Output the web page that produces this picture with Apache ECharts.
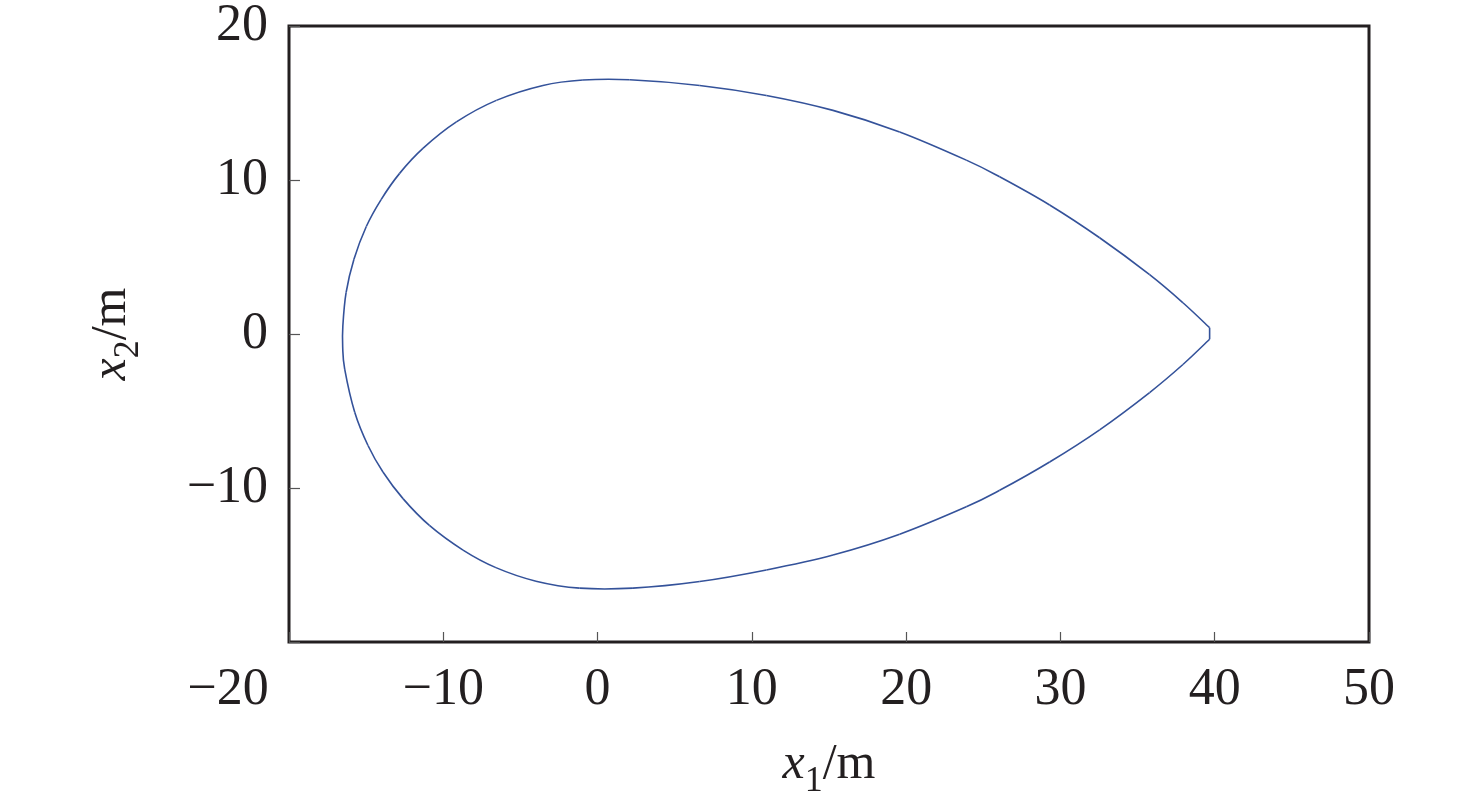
<!DOCTYPE html>
<html><head><meta charset="utf-8">
<script src="https://cdn.jsdelivr.net/npm/echarts@6/dist/echarts.min.js"></script>
<style>html,body{margin:0;padding:0;background:#fff;overflow:hidden}#c{width:1476px;height:805px}</style>
</head><body><div id="c"></div>
<script>
// Upper branch, from the tip going left (x1, x2 in metres)
const upperX1 = [39.67, 37.94, 35.78, 32.54, 29.30, 26.06, 23.90, 19.58, 15.26, 10.94, 6.62, 2.08, -0.95, -3.54, -6.56, -9.15, -11.32, -12.83, -14.03, -14.99, -15.79, -16.30, -16.51];
const upperX2 = [0.41, 2.03, 3.85, 6.25, 8.38, 10.21, 11.29, 13.12, 14.52, 15.49, 16.14, 16.51, 16.49, 16.14, 15.17, 13.77, 12.05, 10.43, 8.73, 6.98, 4.85, 2.68, 0.52];
// Leftmost point
const leftX1 = [-16.52];
const leftX2 = [-0.85];
// Lower branch, from the left going back to the tip
const lowerX1 = [-16.39, -15.74, -14.88, -13.91, -12.61, -10.90, -8.72, -6.59, -3.99, -1.16, 2.29, 6.62, 10.94, 15.26, 19.58, 23.90, 26.06, 29.30, 32.54, 35.78, 37.94, 39.67];
const lowerX2 = [-2.28, -5.08, -7.24, -8.96, -10.69, -12.43, -14.03, -15.17, -16.05, -16.50, -16.50, -16.07, -15.32, -14.35, -13.00, -11.22, -10.15, -8.31, -6.22, -3.80, -1.98, -0.34];

const xTicks = [-20, -10, 0, 10, 20, 30, 40, 50];
const yTicks = [-20, -10, 0, 10, 20];

const curveX1 = upperX1.concat(leftX1, lowerX1);
const curveX2 = upperX2.concat(leftX2, lowerX2);
const curvePts = curveX1.map((v, i) => [v, curveX2[i]]);

const font = 'Liberation Serif';
const txt = '#231f20';
const lineColor = '#34529a';
const fmt = v => (v < 0 ? '\u2212' + Math.abs(v) : String(v));
const nameRich = {
  i: {fontFamily: font, fontStyle: 'italic', fontSize: 50, color: txt, lineHeight: 70, verticalAlign: 'middle'},
  sub: {fontFamily: font, fontSize: 36, color: txt, lineHeight: 36, verticalAlign: 'bottom'},
  n: {fontFamily: font, fontSize: 50, color: txt, lineHeight: 70, verticalAlign: 'middle'}
};

// Smooth curve through the points (Catmull-Rom as cubic Bezier pieces), mapped with the chart's own axes
function renderCurve(params, api) {
  if (params.dataIndex !== 0) return null;
  const p = curvePts.map(d => api.coord(d));
  const n = p.length;
  const style = {stroke: lineColor, lineWidth: 1.6, fill: null};
  const children = [];
  for (let i = 0; i < n - 1; i++) {
    const p0 = p[Math.max(i - 1, 0)], p1 = p[i], p2 = p[i + 1], p3 = p[Math.min(i + 2, n - 1)];
    children.push({
      type: 'bezierCurve',
      shape: {
        x1: p1[0], y1: p1[1], x2: p2[0], y2: p2[1],
        cpx1: p1[0] + (p2[0] - p0[0]) / 6, cpy1: p1[1] + (p2[1] - p0[1]) / 6,
        cpx2: p2[0] - (p3[0] - p1[0]) / 6, cpy2: p2[1] - (p3[1] - p1[1]) / 6
      },
      style: style
    });
  }
  // straight closing edge at the tip
  children.push({type: 'line', shape: {x1: p[n - 1][0], y1: p[n - 1][1], x2: p[0][0], y2: p[0][1]}, style: style});
  return {type: 'group', children: children};
}

const chart = echarts.init(document.getElementById('c'), null, {renderer: 'canvas', width: 1476, height: 805});
chart.setOption({
  animation: false,
  backgroundColor: '#fff',
  grid: {left: 289, width: 1080, top: 25, height: 617, show: true, borderColor: txt, borderWidth: 3, backgroundColor: 'transparent'},
  xAxis: {
    type: 'value', min: xTicks[0], max: xTicks[xTicks.length - 1], interval: 10,
    axisLine: {show: false, onZero: false},
    splitLine: {show: false},
    axisTick: {inside: true, length: 10, lineStyle: {color: '#555', width: 1.2}},
    axisLabel: {
      fontFamily: font, fontSize: 52, color: txt, margin: 22,
      formatter: v => (v === xTicks[0] ? '{s|' + fmt(v) + '}' : fmt(v)),
      rich: {s: {fontFamily: font, fontSize: 52, color: txt, padding: [0, 122, 0, 0]}}
    },
    name: '{i|x}{sub|1}{n|/m}', nameLocation: 'middle', nameGap: 88,
    nameTextStyle: {rich: nameRich}
  },
  yAxis: {
    type: 'value', min: yTicks[0], max: yTicks[yTicks.length - 1], interval: 10,
    axisLine: {show: false, onZero: false},
    splitLine: {show: false},
    axisTick: {inside: true, length: 11, lineStyle: {color: '#555', width: 1.2}},
    axisLabel: {
      fontFamily: font, fontSize: 52, color: txt, margin: 21,
      formatter: v => (v === yTicks[0] ? '' : fmt(v))
    },
    name: '{i|x}{sub|2}{n|/m}', nameLocation: 'middle', nameGap: 142, nameRotate: 90,
    nameTextStyle: {rich: nameRich}
  },
  series: [
    {type: 'custom', coordinateSystem: 'cartesian2d', data: curvePts, renderItem: renderCurve, encode: {x: 0, y: 1}, silent: true}
  ]
});
</script></body></html>
